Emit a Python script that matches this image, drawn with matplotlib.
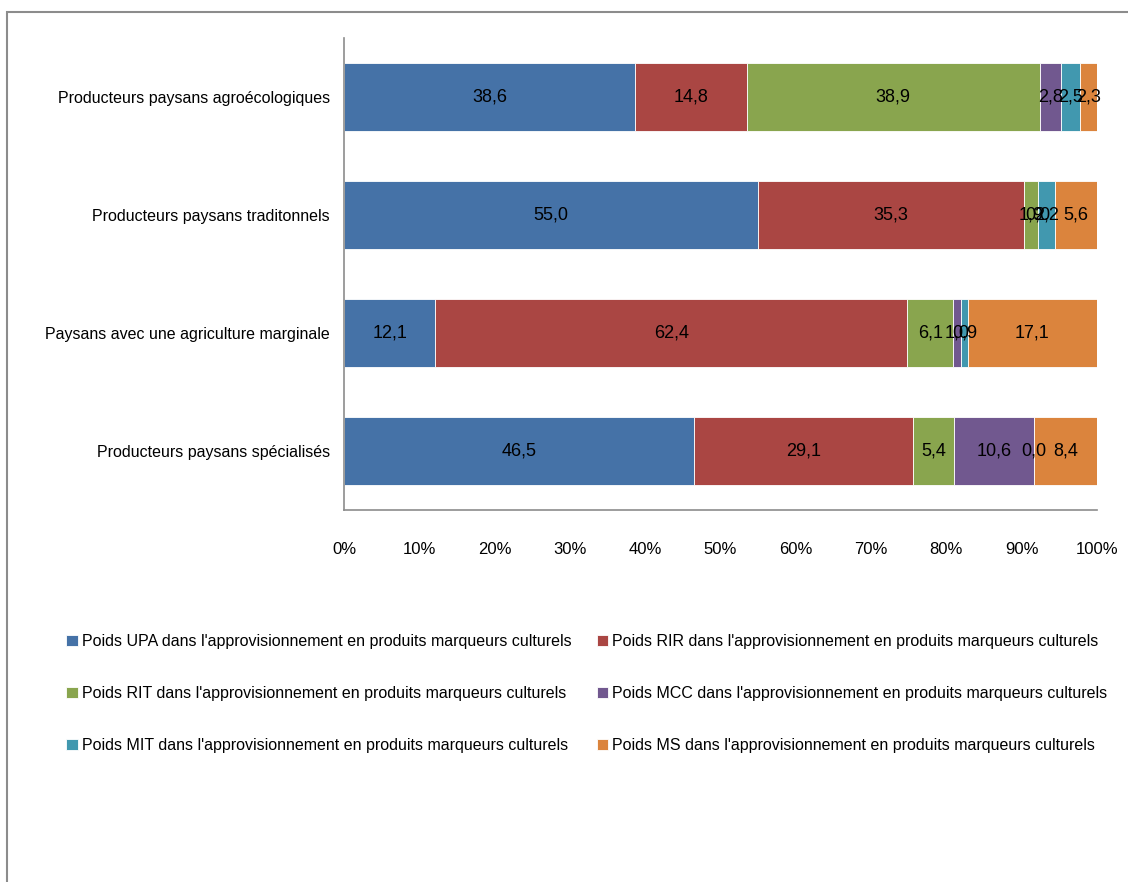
import matplotlib
matplotlib.use("Agg")
import matplotlib.pyplot as plt
from matplotlib.patches import Rectangle
import numpy as np

plt.rcParams['font.family'] = ['Liberation Sans', 'DejaVu Sans']

categories = [
    "Producteurs paysans agroécologiques",
    "Producteurs paysans traditonnels",
    "Paysans avec une agriculture marginale",
    "Producteurs paysans spécialisés",
]
series_names = [
    "Poids UPA dans l'approvisionnement en produits marqueurs culturels",
    "Poids RIR dans l'approvisionnement en produits marqueurs culturels",
    "Poids RIT dans l'approvisionnement en produits marqueurs culturels",
    "Poids MCC dans l'approvisionnement en produits marqueurs culturels",
    "Poids MIT dans l'approvisionnement en produits marqueurs culturels",
    "Poids MS dans l'approvisionnement en produits marqueurs culturels",
]
upa = [38.6, 55.0, 12.1, 46.5]
rir = [14.8, 35.3, 62.4, 29.1]
rit = [38.9, 1.9, 6.1, 5.4]
mcc = [2.8, 0.0, 1.0, 10.6]
mit = [2.5, 2.2, 0.9, 0.0]
ms = [2.3, 5.6, 17.1, 8.4]
colors = ["#4572A7", "#AA4643", "#89A54E", "#71588F", "#4198AF", "#DB843D"]
xticklabels = ["0%", "10%", "20%", "30%", "40%", "50%", "60%", "70%", "80%", "90%", "100%"]

data = np.array([upa, rir, rit, mcc, mit, ms])
totals = data.sum(axis=0)
pct = data / totals * 100

fig = plt.figure(figsize=(11.28, 8.82), dpi=100)
fig.patches.append(Rectangle((7 / 1128, 0 - 0.01), 1.2, 1 - 12 / 882 + 0.01,
                             transform=fig.transFigure, fill=False,
                             edgecolor="#8c8c8c", linewidth=1.5))
ax = fig.add_axes([344 / 1128, 1 - 510 / 882, (1097 - 344) / 1128, (510 - 38) / 882])

y = np.arange(len(categories))
left = np.zeros(len(categories))
fs = 11.5
for i in range(len(series_names)):
    ax.barh(y, pct[i], left=left, height=0.57, color=colors[i],
            edgecolor="white", linewidth=0.6, label=series_names[i])
    for j in range(len(categories)):
        ax.text(left[j] + pct[i][j] / 2, y[j], f"{data[i][j]:.1f}".replace(".", ","),
                ha="center", va="center", fontsize=fs + 1.5, color="black")
    left = left + pct[i]

ax.set_xlim(0, 100)
ax.set_ylim(len(categories) - 0.5, -0.5)
ax.set_yticks(y)
ax.set_yticklabels(categories, fontsize=fs)
ax.set_xticks(np.arange(0, 101, 10))
ax.set_xticklabels(xticklabels, fontsize=fs + 0.5)
ax.tick_params(axis="both", length=0)
ax.tick_params(axis="x", pad=23)
ax.tick_params(axis="y", pad=10)
for s in ["top", "right"]:
    ax.spines[s].set_visible(False)
for s in ["left", "bottom"]:
    ax.spines[s].set_color("#8c8c8c")
    ax.spines[s].set_linewidth(1.2)

handles, labels = ax.get_legend_handles_labels()
order = [0, 2, 4, 1, 3, 5]
leg = fig.legend([handles[k] for k in order], [labels[k] for k in order],
                 ncol=2, loc="upper left",
                 bbox_to_anchor=(52 / 1128, 1 - 620 / 882), frameon=False,
                 fontsize=fs, handlelength=0.7, handleheight=0.7,
                 handletextpad=0.25, columnspacing=1.6, labelspacing=2.32)

fig.savefig("out.png", dpi=100)
